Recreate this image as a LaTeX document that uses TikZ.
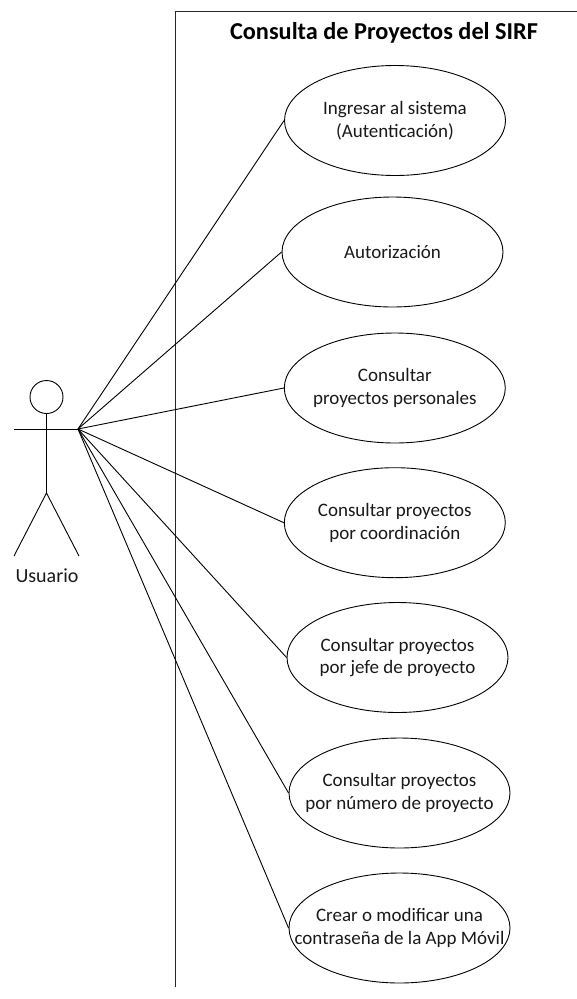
\documentclass[tikz,border=0pt]{standalone}
\usepackage{fontspec}
\setmainfont{Carlito}
\usetikzlibrary{shapes.geometric}
\tikzset{
  usecase/.style={draw=black,line width=0.9pt,ellipse,minimum width=221pt,minimum height=110pt,inner sep=-40pt,align=center,font=\fontsize{19}{22.5}\selectfont,text=black!90},
  usecasetwo/.style={usecase,execute at begin node={\rule{0pt}{23pt}}},
  link/.style={draw=black,line width=0.9pt},
  stick/.style={draw=black,line width=0.9pt},
}
\begin{document}
\begin{tikzpicture}[x=1pt,y=-1pt]
\useasboundingbox (0,0) rectangle (577,999);
\coordinate (framebl) at (175,987);
\coordinate (frametl) at (175,11);
\coordinate (frametr) at (577,11);
\draw[line width=1pt,black!85] (framebl) -- (frametl) -- (frametr);
\node[font=\fontsize{24.3}{28}\selectfont\bfseries,text=black] (title) at (384,33) {Consulta de Proyectos del SIRF};
\node[usecasetwo] (u1) at (395,120.5) {Ingresar al sistema\\(Autenticación)};
\node[usecase] (u2) at (392.5,252) {Autorización};
\node[usecasetwo] (u3) at (394.8,388) {Consultar\\proyectos personales};
\node[usecasetwo] (u4) at (394.8,522.7) {Consultar proyectos\\por coordinación};
\node[usecasetwo] (u5) at (397.5,657.5) {Consultar proyectos\\por jefe de proyecto};
\node[usecasetwo] (u6) at (399.5,793) {Consultar proyectos\\por número de proyecto};
\node[usecasetwo] (u7) at (399.5,928) {Crear o modificar una\\contraseña de la App Móvil};
\node[circle,draw=black,line width=0.9pt,minimum size=33pt,inner sep=0pt] (head) at (46.5,397) {};
\coordinate (hip) at (46.5,493);
\coordinate (handl) at (14,429);
\coordinate (hub) at (78,429);
\coordinate (footl) at (14,556);
\coordinate (footr) at (79,556);
\draw[stick] (head.south) -- (hip);
\draw[stick] (handl) -- (hub);
\draw[stick] (footl) -- (hip) -- (footr);
\node[font=\fontsize{20}{24}\selectfont,text=black!90] (actor) at (47,576) {Usuario};
\foreach \n in {u1,u2,u3,u4,u5,u6,u7} \draw[link] (hub) -- (\n.west);
\end{tikzpicture}
\end{document}
